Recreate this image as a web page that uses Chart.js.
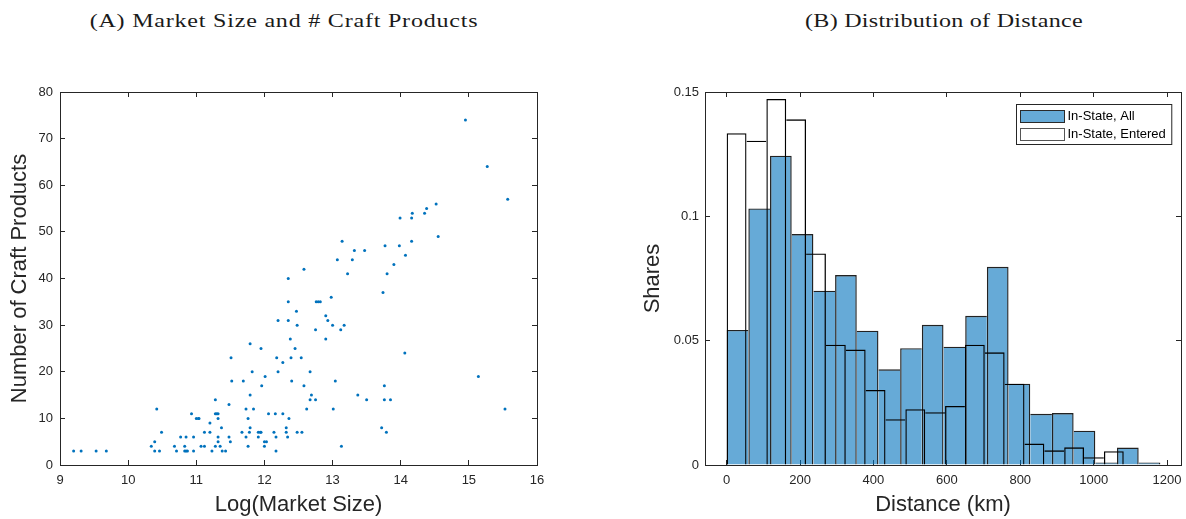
<!DOCTYPE html>
<html>
<head>
<meta charset="utf-8">
<title>Market Size and Distance</title>
<script src="https://cdn.jsdelivr.net/npm/chart.js@4.4.1/dist/chart.umd.min.js"></script>
<style>
  html, body { margin: 0; padding: 0; background: #fff; }
  #page { position: relative; width: 1186px; height: 519px; overflow: hidden; background: #fff; }
  #page canvas { position: absolute; top: 0; }
  .panel-title {
    position: absolute; top: 9px; width: 600px; text-align: center;
    font-family: "Liberation Serif", "Times New Roman", serif; font-size: 18.5px;
    letter-spacing: 0.6px; line-height: 24px; color: #1a1a1a; white-space: nowrap;
    transform: scaleX(1.3);
  }
</style>
</head>
<body>
<div id="page">
  <div class="panel-title" style="left:-16px">(A) Market Size and # Craft Products</div>
  <div class="panel-title" style="left:644px; letter-spacing:0.2px">(B) Distribution of Distance</div>
  <canvas id="scatterCanvas" width="593" height="519" style="left:0"></canvas>
  <canvas id="histCanvas" width="593" height="519" style="left:593px"></canvas>
</div>
<script>
// ---- Panel A: log market size vs. number of craft products ----
const marketSizeLog = [
  9.20, 9.31, 9.53, 9.68, 10.34, 10.39, 10.39, 10.42, 10.46, 10.49,
  10.68, 10.71, 10.77, 10.83, 10.83, 10.85, 10.85, 10.87, 10.93, 10.96,
  10.96, 11.00, 11.03, 11.04, 11.07, 11.12, 11.12, 11.20, 11.20, 11.23,
  11.28, 11.28, 11.28, 11.30, 11.32, 11.32, 11.32, 11.32, 11.35, 11.37,
  11.38, 11.43, 11.48, 11.48, 11.50, 11.51, 11.52, 11.67, 11.69, 11.73,
  11.73, 11.76, 11.76, 11.78, 11.79, 11.79, 11.79, 11.82, 11.84, 11.91,
  11.91, 11.94, 11.95, 11.95, 11.96, 12.00, 12.00, 12.01, 12.03, 12.06,
  12.14, 12.16, 12.17, 12.17, 12.18, 12.20, 12.20, 12.27, 12.27, 12.32,
  12.32, 12.34, 12.35, 12.35, 12.35, 12.36, 12.38, 12.39, 12.40, 12.45,
  12.47, 12.48, 12.48, 12.54, 12.55, 12.58, 12.58, 12.62, 12.67, 12.67,
  12.69, 12.75, 12.75, 12.76, 12.79, 12.82, 12.90, 12.90, 12.93, 12.98,
  13.00, 13.01, 13.04, 13.07, 13.12, 13.13, 13.14, 13.17, 13.22, 13.29,
  13.32, 13.37, 13.47, 13.50, 13.72, 13.74, 13.76, 13.76, 13.77, 13.79,
  13.80, 13.85, 13.90, 13.98, 13.99, 14.06, 14.07, 14.16, 14.16, 14.17,
  14.35, 14.38, 14.52, 14.55, 14.95, 15.14, 15.27, 15.53, 15.57
];
const craftProducts = [
  3, 3, 3, 3, 4, 5, 3, 12, 3, 7,
  4, 3, 6, 4, 3, 6, 3, 3, 11, 3,
  6, 10, 10, 10, 4, 7, 4, 9, 7, 3,
  4, 14, 11, 11, 11, 10, 6, 5, 4, 8,
  3, 3, 13, 6, 5, 23, 18, 7, 18, 12,
  6, 10, 4, 7, 8, 15, 26, 20, 12, 6,
  7, 7, 7, 25, 17, 4, 5, 19, 5, 11,
  7, 11, 6, 3, 23, 31, 20, 22, 11, 8,
  7, 6, 40, 35, 31, 10, 27, 23, 18, 25,
  33, 30, 7, 23, 7, 42, 17, 12, 20, 14,
  15, 29, 14, 35, 35, 35, 32, 27, 31, 36,
  30, 12, 18, 44, 29, 4, 48, 30, 41, 44,
  46, 15, 46, 14, 8, 37, 17, 14, 47, 7,
  41, 14, 43, 47, 53, 24, 45, 53, 48, 54,
  54, 55, 56, 49, 74, 19, 64, 12, 57
];
const scatterXRange = [9, 16];
const scatterYRange = [0, 80];

// ---- Panel B: distribution of distance (shares per bin) ----
const binWidthAll = 59.09;       // km
const sharesAll = [
  0.0543, 0.1032, 0.1244, 0.0929, 0.0701, 0.0764, 0.0540, 0.0385, 0.0470, 0.0564,
  0.0476, 0.0600, 0.0797, 0.0327, 0.0206, 0.0209, 0.0138, 0.0010, 0.0070, 0.0010
];
const binWidthEntered = 54.1;    // km
const sharesEntered = [
  0.1334, 0.1304, 0.1472, 0.1390, 0.0851, 0.0484, 0.0464, 0.0302, 0.0184, 0.0224,
  0.0212, 0.0237, 0.0484, 0.0453, 0.0327, 0.0086, 0.0059, 0.0071, 0.0031, 0.0055
];
const distanceRange = [-59, 1238];
const shareRange = [0, 0.15];
const seriesLabels = ['In-State, All', 'In-State, Entered'];

// ---- shared styling ----
const AXIS_COLOR = '#262626';
const SANS = '"Liberation Sans", Arial, Helvetica, sans-serif';
const TICK_FONT = { family: SANS, size: 13 };
const LABEL_FONT = { family: SANS, size: 22 };
const FILL_ALL = 'rgba(0,114,189,0.6)';

function clearScalePadding(scale) {
  scale.paddingLeft = scale.paddingRight = scale.paddingTop = scale.paddingBottom = 0;
}

// main axis: labels outside, tick marks pointing into the plot
function mainAxis(position, range, step, fixedSize, labelPad, titleText, titlePad, fmt) {
  return {
    type: 'linear', position, min: range[0], max: range[1], offset: false,
    grid: { display: true, drawOnChartArea: false, drawTicks: true, tickLength: -5,
            color: AXIS_COLOR, tickColor: AXIS_COLOR, lineWidth: 1, offset: false },
    border: { display: true, color: AXIS_COLOR, width: 1 },
    ticks: { stepSize: step, includeBounds: false, padding: labelPad, color: AXIS_COLOR,
             font: TICK_FONT, maxRotation: 0, autoSkip: false, callback: fmt },
    title: { display: true, text: titleText, color: AXIS_COLOR, font: LABEL_FONT, padding: titlePad },
    afterFit(scale) {
      if (scale.isHorizontal()) scale.height = fixedSize; else scale.width = fixedSize;
      clearScalePadding(scale);
    }
  };
}

// mirrored axis on the opposite side: box edge with inward tick marks only
function frameAxis(position, range, step) {
  return {
    type: 'linear', position, min: range[0], max: range[1], offset: false,
    grid: { display: true, drawOnChartArea: false, drawTicks: true, tickLength: -5,
            color: AXIS_COLOR, tickColor: AXIS_COLOR, lineWidth: 1, offset: false },
    border: { display: true, color: AXIS_COLOR, width: 1 },
    ticks: { display: false, stepSize: step, includeBounds: false },
    afterFit(scale) {
      if (scale.isHorizontal()) scale.height = 0; else scale.width = 0;
      clearScalePadding(scale);
    }
  };
}

const plainNumber = (v) => String(parseFloat(Number(v).toFixed(6)));

// ---- Panel A chart ----
new Chart(document.getElementById('scatterCanvas'), {
  type: 'scatter',
  data: {
    datasets: [{
      data: marketSizeLog.map((x, i) => ({ x, y: craftProducts[i] })),
      xAxisID: 'x', yAxisID: 'y',
      backgroundColor: '#0072BD', borderWidth: 0,
      pointRadius: 1.5, pointHoverRadius: 1.5, pointStyle: 'circle'
    }]
  },
  options: {
    responsive: false, animation: false, events: [], devicePixelRatio: 1,
    layout: { padding: { left: 0, top: 92, right: 56, bottom: 0 }, autoPadding: false },
    plugins: { legend: { display: false }, tooltip: { enabled: false }, title: { display: false } },
    scales: {
      x: mainAxis('bottom', scatterXRange, 1, 54, 13, 'Log(Market Size)', { top: 0, bottom: 1 }, plainNumber),
      y: mainAxis('left', scatterYRange, 10, 60, 12, 'Number of Craft Products', { top: 7, bottom: 0 }, plainNumber),
      xTop: frameAxis('top', scatterXRange, 1),
      yRight: frameAxis('right', scatterYRange, 10)
    }
  }
});

// ---- Panel B chart ----
// shared edges between neighbouring bars are drawn once, by the taller bar
function outlineSides(values, i, w) {
  const v = values[i];
  return {
    top: w, bottom: 0,
    left: (i === 0 || v > values[i - 1]) ? w : 0,
    right: (i === values.length - 1 || v >= values[i + 1]) ? w : 0
  };
}

// legend box drawn inside the plot's upper-right corner
const insideLegend = {
  id: 'insideLegend',
  afterDatasetsDraw(chart, args, opts) {
    const { ctx, chartArea } = chart;
    const items = chart.data.datasets.map((ds) => ({
      text: ds.label, fill: ds.legendFill, stroke: ds.legendStroke
    }));
    ctx.save();
    ctx.font = `${opts.fontSize}px ${SANS}`;
    const textW = Math.max(...items.map((it) => ctx.measureText(it.text).width));
    const w = opts.padLeft + opts.swatchW + opts.gap + textW + opts.padRight;
    const h = opts.padTop * 2 + items.length * opts.rowH;
    const x0 = Math.round(chartArea.right - opts.marginRight - w) + 0.5;
    const y0 = Math.round(chartArea.top + opts.marginTop) + 0.5;
    ctx.fillStyle = '#fff';
    ctx.fillRect(x0, y0, w, h);
    ctx.lineWidth = 1;
    ctx.strokeStyle = AXIS_COLOR;
    ctx.strokeRect(x0, y0, w, h);
    items.forEach((it, k) => {
      const cy = y0 + opts.padTop + opts.rowH * (k + 0.5);
      const sx = x0 + opts.padLeft;
      const sy = Math.round(cy - opts.swatchH / 2) + 0.5;
      ctx.fillStyle = it.fill;
      ctx.fillRect(sx, sy, opts.swatchW, opts.swatchH);
      ctx.strokeStyle = it.stroke;
      ctx.strokeRect(sx, sy, opts.swatchW, opts.swatchH);
      ctx.fillStyle = '#000';
      ctx.textBaseline = 'middle';
      ctx.textAlign = 'left';
      ctx.fillText(it.text, sx + opts.swatchW + opts.gap, cy + 0.5);
    });
    ctx.restore();
  }
};

new Chart(document.getElementById('histCanvas'), {
  type: 'bar',
  data: {
    datasets: [
      {
        label: seriesLabels[0],
        data: sharesAll.map((s, i) => ({ x: (i + 0.5) * binWidthAll, y: s })),
        xAxisID: 'x', yAxisID: 'y', order: 2, grouped: false,
        backgroundColor: FILL_ALL, borderColor: '#222',
        borderWidth: (c) => outlineSides(sharesAll, c.dataIndex, 1.4),
        borderSkipped: false, barPercentage: 1, categoryPercentage: 1, inflateAmount: 0,
        legendFill: FILL_ALL, legendStroke: '#2a2a2a'
      },
      {
        label: seriesLabels[1],
        data: sharesEntered.map((s, i) => ({ x: (i + 0.5) * binWidthEntered, y: s })),
        xAxisID: 'xEntered', yAxisID: 'y', order: 1, grouped: false,
        backgroundColor: 'rgba(255,255,255,0)', borderColor: '#000',
        borderWidth: (c) => outlineSides(sharesEntered, c.dataIndex, 1.3),
        borderSkipped: false, barPercentage: 1, categoryPercentage: 1, inflateAmount: 0,
        legendFill: '#fff', legendStroke: '#555'
      }
    ]
  },
  options: {
    responsive: false, animation: false, events: [], devicePixelRatio: 1,
    layout: { padding: { left: 0, top: 92, right: 5, bottom: 0 }, autoPadding: false },
    plugins: {
      legend: { display: false }, tooltip: { enabled: false }, title: { display: false },
      insideLegend: { fontSize: 13, padLeft: 4, padRight: 6, padTop: 2, rowH: 18,
                      swatchW: 44, swatchH: 12, gap: 3, marginRight: 10, marginTop: 12 }
    },
    scales: {
      x: mainAxis('bottom', distanceRange, 200, 54, 13, 'Distance (km)', { top: 0, bottom: 1 }, plainNumber),
      xEntered: {
        type: 'linear', axis: 'x', display: false, offset: false,
        min: distanceRange[0], max: distanceRange[1],
        grid: { offset: false }, ticks: { stepSize: 200, includeBounds: false }
      },
      y: mainAxis('left', shareRange, 0.05, 112, 11, 'Shares', { top: 47, bottom: 0 }, plainNumber),
      xTop: frameAxis('top', distanceRange, 200),
      yRight: frameAxis('right', shareRange, 0.05)
    }
  },
  plugins: [insideLegend]
});
</script>
</body>
</html>
